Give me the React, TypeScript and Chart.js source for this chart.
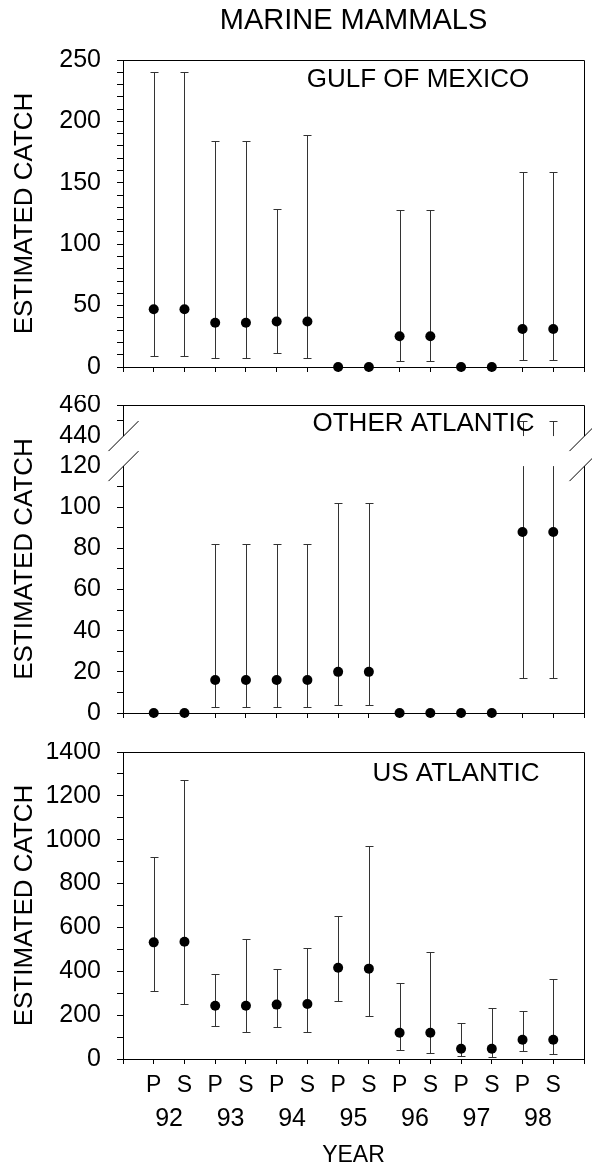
import React, { useEffect, useRef } from 'react';
import { Chart, registerables } from 'chart.js';

Chart.register(...registerables);

const FONT = "'Liberation Sans', Arial, Helvetica, sans-serif";
Chart.defaults.font.family = FONT;
Chart.defaults.color = '#000';

// ---------- data ----------
const PERIODS = ['P', 'S', 'P', 'S', 'P', 'S', 'P', 'S', 'P', 'S', 'P', 'S', 'P', 'S'];
const YEARS = ['92', '93', '94', '95', '96', '97', '98'];

const GULF_MEAN = [47, 47, 36, 36, 37, 37, 0, 0, 25, 25, 0, 0, 31, 31];
const GULF_LOW = [9, 9, 7, 7, 11, 7, null, null, 5, 5, null, null, 6, 6];
const GULF_HIGH = [240, 240, 184, 184, 129, 189, null, null, 128, 128, null, null, 159, 159];

const OTHER_MEAN = [0, 0, 16, 16, 16, 16, 20, 20, 0, 0, 0, 0, 88, 88];
const OTHER_LOW = [null, null, 3, 3, 3, 3, 4, 4, null, null, null, null, 17, 17];
const OTHER_HIGH = [null, null, 82, 82, 82, 82, 102, 102, null, null, null, null, 450, 450];

const US_MEAN = [532, 535, 243, 243, 248, 251, 416, 412, 120, 120, 47, 47, 88, 88];
const US_LOW = [310, 249, 152, 125, 148, 123, 265, 196, 41, 29, 14, 11, 35, 23];
const US_HIGH = [922, 1272, 387, 545, 412, 507, 650, 970, 348, 490, 164, 233, 221, 366];

const GULF_LABELS = [0, 50, 100, 150, 200, 250];
const OTHER_LABELS = [0, 20, 40, 60, 80, 100, 120, 440, 460];
const US_LABELS = [0, 200, 400, 600, 800, 1000, 1200, 1400];
const OTHER_BREAK: [number, number] = [120, 440];

// ---------- axis helpers ----------
function stepTicks(from: number, to: number, step: number) {
  const out: number[] = [];
  for (let v = from; v <= to + 1e-9; v += step) out.push(v);
  return out;
}
const identity = (v: number) => v;
const GAP = 14.6;
const UPPER_RATIO = 0.755;
const breakTf = (v: number) =>
  v <= OTHER_BREAK[0] ? v : OTHER_BREAK[0] + GAP + (v - OTHER_BREAK[1]) * UPPER_RATIO;

const X_TICKS = stepTicks(0, PERIODS.length + 1, 1);

type Cfg = {
  canvas: HTMLCanvasElement;
  mean: number[];
  low: (number | null)[];
  high: (number | null)[];
  yMax: number;
  yTicks: number[];
  majors: number[];
  tf: (v: number) => number;
  label: string;
  labelDx: number;
  labelDy: number;
  title?: string;
  padTop: number;
  xHeight: number;
  showX: boolean;
  brk?: [number, number];
};

function build(c: Cfg) {
  const errorBars = {
    id: 'errorBars',
    beforeDatasetsDraw(chart: any) {
      const { ctx } = chart;
      const x = chart.scales.x;
      const y = chart.scales.y;
      ctx.save();
      ctx.strokeStyle = '#333';
      ctx.lineWidth = 1;
      c.low.forEach((lo, i) => {
        const hi = c.high[i];
        if (lo == null || hi == null) return;
        const px = Math.round(x.getPixelForValue(i + 1)) + 0.5;
        const yl = Math.round(y.getPixelForValue(c.tf(lo))) + 0.5;
        const yh = Math.round(y.getPixelForValue(c.tf(hi))) + 0.5;
        ctx.beginPath();
        if (c.brk && lo < c.brk[0] && hi > c.brk[1]) {
          ctx.moveTo(px, yl);
          ctx.lineTo(px, y.getPixelForValue(c.tf(c.brk[0])));
          ctx.moveTo(px, y.getPixelForValue(c.tf(c.brk[1])));
          ctx.lineTo(px, yh);
        } else {
          ctx.moveTo(px, yl);
          ctx.lineTo(px, yh);
        }
        ctx.moveTo(px - 4, yl);
        ctx.lineTo(px + 4, yl);
        ctx.moveTo(px - 4, yh);
        ctx.lineTo(px + 4, yh);
        ctx.stroke();
      });
      ctx.restore();
    },
  };

  const frame = {
    id: 'frame',
    afterDraw(chart: any) {
      const { ctx, chartArea } = chart;
      const y = chart.scales.y;
      const l = Math.round(chartArea.left);
      const r = Math.round(chartArea.right) + 0.5;
      const t = Math.round(chartArea.top) + 0.5;
      const b = Math.round(chartArea.bottom) + 0.5;
      ctx.save();
      ctx.strokeStyle = '#000';
      ctx.lineWidth = 1;
      ctx.beginPath();
      ctx.moveTo(l, t);
      ctx.lineTo(r, t);
      if (c.brk) {
        const yA = y.getPixelForValue(c.tf(c.brk[1]));
        const yB = y.getPixelForValue(c.tf(c.brk[0]));
        ctx.moveTo(r, t);
        ctx.lineTo(r, yA);
        ctx.moveTo(r, yB);
        ctx.lineTo(r, b);
        ctx.stroke();
        ctx.fillStyle = '#fff';
        ctx.fillRect(l - 2, yA, 5, yB - yA);
        ctx.beginPath();
        for (const sx of [l + 0.5, r]) {
          for (const sy of [yA, yB]) {
            ctx.moveTo(sx - 15, sy + 15);
            ctx.lineTo(sx + 15, sy - 15);
          }
        }
        ctx.stroke();
      } else {
        ctx.moveTo(r, t);
        ctx.lineTo(r, b);
        ctx.stroke();
      }
      ctx.restore();
    },
  };

  const panelLabel = {
    id: 'panelLabel',
    afterDraw(chart: any) {
      const { ctx, chartArea } = chart;
      ctx.save();
      ctx.font = `26px ${FONT}`;
      ctx.fillStyle = '#000';
      ctx.textAlign = 'center';
      ctx.textBaseline = 'alphabetic';
      ctx.fillText(c.label, chartArea.left + c.labelDx, chartArea.top + c.labelDy);
      ctx.restore();
    },
  };

  const hidden = c.brk ? c.brk : [];

  const scales: any = {
    x: {
      type: 'linear',
      position: 'bottom',
      weight: 0,
      min: 0,
      max: PERIODS.length + 1,
      afterBuildTicks: (s: any) => {
        s.ticks = X_TICKS.map((v) => ({ value: v }));
      },
      afterFit: (s: any) => {
        s.height = c.xHeight;
        s.paddingLeft = 0;
        s.paddingRight = 0;
      },
      grid: { drawOnChartArea: false, drawTicks: true, tickLength: 5, tickColor: '#000', lineWidth: 1 },
      border: { display: true, color: '#000', width: 1 },
      ticks: {
        display: c.showX,
        autoSkip: false,
        maxRotation: 0,
        minRotation: 0,
        padding: 8,
        color: '#000',
        font: { family: FONT, size: 23 },
        callback: (v: number) => (v >= 1 && v <= PERIODS.length ? PERIODS[v - 1] : ''),
      },
    },
    y: {
      type: 'linear',
      position: 'left',
      min: 0,
      max: c.yMax,
      afterBuildTicks: (s: any) => {
        s.ticks = c.yTicks.map((v) => ({ value: c.tf(v) }));
      },
      afterFit: (s: any) => {
        s.width = 123;
        s.paddingTop = 0;
        s.paddingBottom = 0;
      },
      grid: {
        drawOnChartArea: false,
        drawTicks: true,
        tickLength: 6,
        lineWidth: 1,
        tickColor: (ctx: any) => (hidden.includes(c.yTicks[ctx.index]) ? 'rgba(0,0,0,0)' : '#000'),
      },
      border: { display: true, color: '#000', width: 1 },
      ticks: {
        autoSkip: false,
        padding: 16,
        color: '#000',
        font: { family: FONT, size: 25 },
        callback: (_v: number, i: number) =>
          c.majors.includes(c.yTicks[i]) ? String(c.yTicks[i]) : '',
      },
      title: {
        display: true,
        text: 'ESTIMATED CATCH',
        color: '#000',
        font: { family: FONT, size: 26 },
        padding: { top: 9, bottom: 0 },
      },
    },
  };

  if (c.showX) {
    scales.x2 = {
      type: 'linear',
      position: 'bottom',
      weight: 1,
      min: 0,
      max: PERIODS.length + 1,
      afterBuildTicks: (s: any) => {
        s.ticks = YEARS.map((_, i) => ({ value: 1.5 + 2 * i }));
      },
      afterFit: (s: any) => {
        s.height = 73;
        s.paddingLeft = 0;
        s.paddingRight = 0;
      },
      grid: { display: false, drawTicks: false, drawOnChartArea: false },
      border: { display: false },
      ticks: {
        autoSkip: false,
        maxRotation: 0,
        minRotation: 0,
        padding: 5,
        color: '#000',
        font: { family: FONT, size: 25 },
        callback: (_v: number, i: number) => YEARS[i],
      },
      title: {
        display: true,
        text: 'YEAR',
        color: '#000',
        font: { family: FONT, size: 23 },
        padding: { top: 0, bottom: 3 },
      },
    };
  }

  return new Chart(c.canvas, {
    type: 'scatter',
    data: {
      datasets: [
        {
          data: c.mean.map((v, i) => ({ x: i + 1, y: c.tf(v) })),
          pointRadius: 5,
          pointHoverRadius: 5,
          pointBackgroundColor: '#000',
          pointBorderColor: '#000',
          pointBorderWidth: 0,
          showLine: false,
          clip: false as any,
        },
      ],
    },
    options: {
      responsive: false,
      animation: false,
      events: [],
      layout: { padding: { left: 0, right: 8, top: c.padTop, bottom: 0 } },
      scales,
      plugins: {
        legend: { display: false },
        tooltip: { enabled: false },
        title: c.title
          ? {
              display: true,
              text: c.title,
              fullSize: false,
              color: '#000',
              font: { family: FONT, size: 29, weight: 'normal' },
              padding: { top: 4, bottom: 21.2 },
            }
          : { display: false },
      },
    } as any,
    plugins: [errorBars, frame, panelLabel],
  });
}

export default function App() {
  const r1 = useRef<HTMLCanvasElement>(null);
  const r2 = useRef<HTMLCanvasElement>(null);
  const r3 = useRef<HTMLCanvasElement>(null);

  useEffect(() => {
    const charts = [
      build({
        canvas: r1.current!,
        mean: GULF_MEAN,
        low: GULF_LOW,
        high: GULF_HIGH,
        yMax: 250,
        yTicks: stepTicks(0, 250, 10),
        majors: GULF_LABELS,
        tf: identity,
        label: 'GULF OF MEXICO',
        labelDx: 295,
        labelDy: 26.8,
        title: 'MARINE MAMMALS',
        padTop: 0,
        xHeight: 13,
        showX: false,
      }),
      build({
        canvas: r2.current!,
        mean: OTHER_MEAN,
        low: OTHER_LOW,
        high: OTHER_HIGH,
        yMax: breakTf(460),
        yTicks: [...stepTicks(0, 120, 10), ...stepTicks(440, 460, 10)],
        majors: OTHER_LABELS,
        tf: breakTf,
        label: 'OTHER ATLANTIC',
        labelDx: 300.5,
        labelDy: 25.7,
        padTop: 10,
        xHeight: 12,
        showX: false,
        brk: OTHER_BREAK,
      }),
      build({
        canvas: r3.current!,
        mean: US_MEAN,
        low: US_LOW,
        high: US_HIGH,
        yMax: 1400,
        yTicks: stepTicks(0, 1400, 100),
        majors: US_LABELS,
        tf: identity,
        label: 'US ATLANTIC',
        labelDx: 333,
        labelDy: 29,
        padTop: 10,
        xHeight: 40,
        showX: true,
      }),
    ];
    return () => charts.forEach((ch) => ch.destroy());
  }, []);

  return (
    <div style={{ position: 'absolute', left: 0, top: 0, width: 592, height: 1172, background: '#fff' }}>
      <canvas ref={r1} width={592} height={380} style={{ position: 'absolute', left: 0, top: 0 }} />
      <canvas ref={r2} width={592} height={330} style={{ position: 'absolute', left: 0, top: 395 }} />
      <canvas ref={r3} width={592} height={430} style={{ position: 'absolute', left: 0, top: 742 }} />
    </div>
  );
}
